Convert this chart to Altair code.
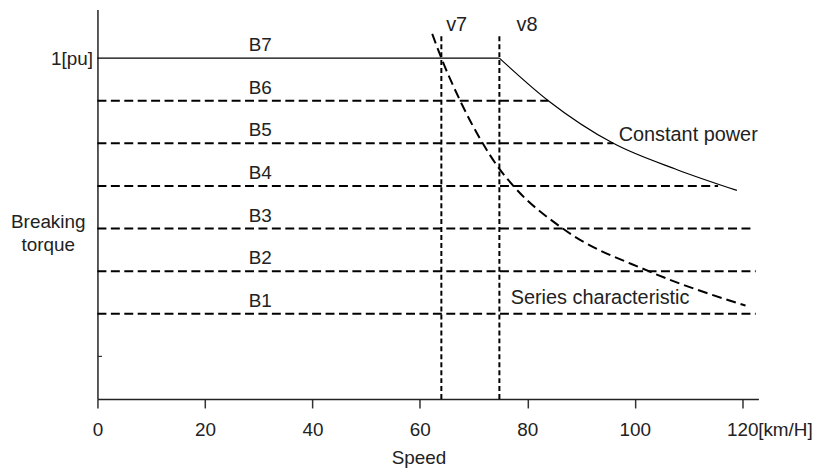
import altair as alt
import pandas as pd

# ---- data ----
levels = ["B1", "B2", "B3", "B4", "B5", "B6", "B7"]
level_torque = [0.25, 0.375, 0.5, 0.625, 0.75, 0.875, 1.0]
level_end_speed = [122.5, 122.5, 121.7, 115.5, 96.0, 83.9, 74.8]
level_label_speed = 30.3

power_speed = [74.8, 83.9, 96.0, 108.0, 119.0]
power_torque = [1.0, 0.875, 0.75, 0.672, 0.612]

series_speed = [62.3, 64.0, 67.5, 71.7, 74.8, 77.4, 86.6, 102.6, 120.6]
series_torque = [1.071, 1.0, 0.875, 0.75, 0.675, 0.625, 0.5, 0.375, 0.274]

markers = ["v7", "v8"]
marker_speed = [64.0, 74.8]
marker_top = [1.07, 1.07]

note_text = ["Constant power", "Series characteristic", "v7", "v8"]
note_speed = [97.0, 76.9, 64.9, 78.0]
note_torque = [0.756, 0.280, 1.079, 1.079]

x_ticks = [0, 20, 40, 60, 80, 100, 120]
y_minor_tick = [0.125]

FONT = "Liberation Sans"
TXT = "#222222"

xs = alt.Scale(domain=[0, 123], nice=False, zero=True)
ys = alt.Scale(domain=[0, 1.1429], nice=False, zero=True)

xaxis = alt.Axis(values=x_ticks, title="Speed", titleFont=FONT, titleFontSize=19,
                 titleFontWeight="normal", titleColor=TXT, titleX=323, titleY=65,
                 titleAlign="center", titleBaseline="alphabetic",
                 labelFont=FONT, labelFontSize=19, labelColor=TXT,
                 labelBaseline="alphabetic", labelPadding=28, labelFlush=False,
                 tickSize=9, tickColor="#333333", tickWidth=1.5,
                 domainColor="#222222", domainWidth=1.5, grid=False)
yaxis = alt.Axis(values=[1], labelExpr="'1[pu]'", ticks=False, labelPadding=5,
                 labelFont=FONT, labelFontSize=19, labelColor=TXT,
                 title=["Breaking", "torque"], titleAngle=0, titleAlign="center",
                 titleBaseline="alphabetic", titleX=-50, titleY=219,
                 titleFont=FONT, titleFontSize=19, titleFontWeight="normal",
                 titleColor=TXT, titleLineHeight=24,
                 domainColor="#222222", domainWidth=1.5, grid=False)

X = alt.X("speed:Q", scale=xs, axis=xaxis)
Y = alt.Y("torque:Q", scale=ys, axis=yaxis)

lv = pd.DataFrame({"level": levels, "torque": level_torque,
                   "speed": [0.0] * len(levels), "speed2": level_end_speed,
                   "lx": [level_label_speed] * len(levels)})

solid_levels = alt.Chart(lv).transform_filter(alt.datum.level == "B7").mark_rule(
    color="black", strokeWidth=1.2).encode(x=X, x2="speed2:Q", y=Y)
dashed_levels = alt.Chart(lv).transform_filter(alt.datum.level != "B7").mark_rule(
    color="black", strokeWidth=2, strokeDash=[9, 4.5]).encode(x=X, x2="speed2:Q", y=Y)
level_labels = alt.Chart(lv).mark_text(
    font=FONT, fontSize=19, color=TXT, baseline="alphabetic", align="center", dy=-7
).encode(x=alt.X("lx:Q", scale=xs, axis=xaxis), y=Y, text="level:N")

pw = pd.DataFrame({"speed": power_speed, "torque": power_torque})
power_line = alt.Chart(pw).mark_line(color="black", strokeWidth=1.2,
                                     interpolate="monotone").encode(x=X, y=Y)

sr = pd.DataFrame({"speed": series_speed, "torque": series_torque})
series_line = alt.Chart(sr).mark_line(color="black", strokeWidth=2, strokeDash=[10, 5],
                                      interpolate="monotone").encode(x=X, y=Y)

mk = pd.DataFrame({"name": markers, "speed": marker_speed, "torque": [0.0, 0.0],
                   "torque2": marker_top})
marker_rules = alt.Chart(mk).mark_rule(color="black", strokeWidth=2,
                                       strokeDash=[5, 3]).encode(x=X, y=Y, y2="torque2:Q")

nt = pd.DataFrame({"text": note_text, "speed": note_speed, "torque": note_torque})
notes = alt.Chart(nt).mark_text(font=FONT, fontSize=20, color=TXT, align="left",
                                baseline="alphabetic").encode(x=X, y=Y, text="text:N")

mt = pd.DataFrame({"speed": [0.0], "speed2": [0.85], "torque": y_minor_tick})
minor_tick = alt.Chart(mt).mark_rule(color="#333333", strokeWidth=1.2).encode(
    x=X, x2="speed2:Q", y=Y)

un = pd.DataFrame({"speed": [x_ticks[-1]], "torque": [0.0], "text": ["[km/H]"]})
unit = alt.Chart(un).mark_text(font=FONT, fontSize=19, color=TXT, align="left",
                               baseline="alphabetic", dx=16, dy=37.5).encode(
    x=X, y=Y, text="text:N")

chart = alt.layer(
    dashed_levels, solid_levels, level_labels, power_line, series_line,
    marker_rules, notes, minor_tick, unit
).properties(
    width=665, height=392,
    autosize=alt.AutoSizeParams(type="none"),
    padding={"left": 90, "top": 0, "right": 64, "bottom": 70},
).configure_view(stroke=None)

chart.save("out.html", embed_options={"renderer": "svg", "actions": False})
